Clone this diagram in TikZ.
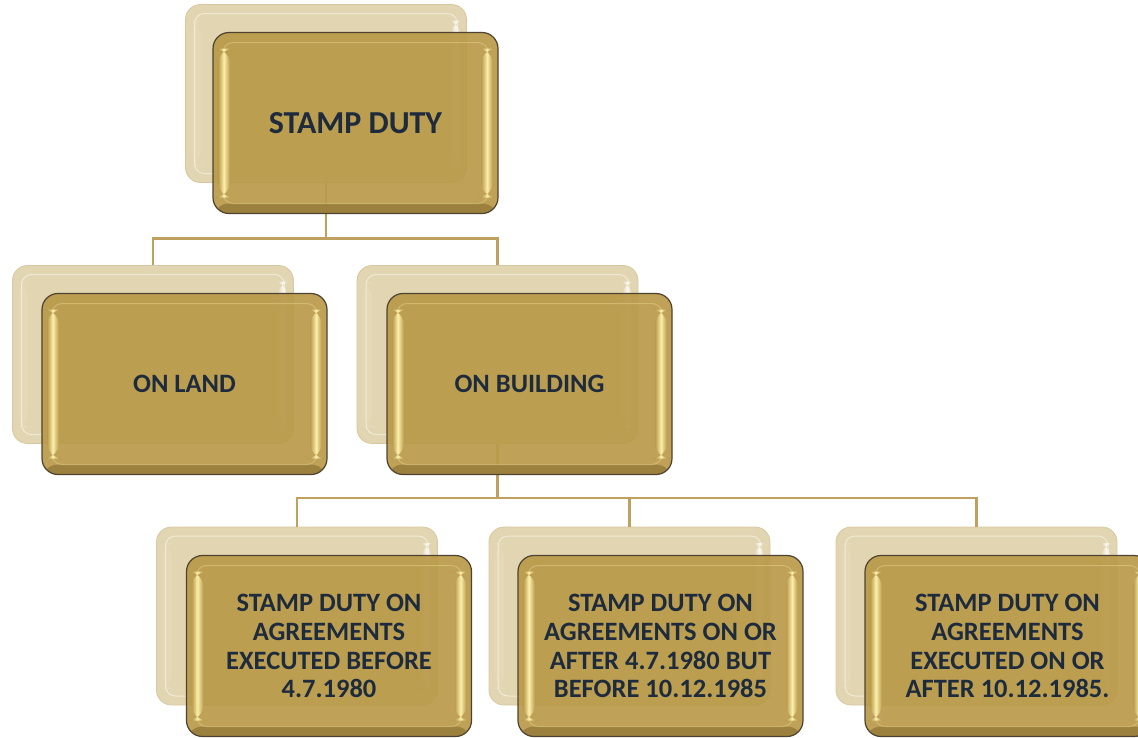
\documentclass[tikz,border=0pt]{standalone}
\usepackage{fontspec}
\setmainfont{Carlito}
\definecolor{gold}{HTML}{BA9A4A}
\definecolor{goldhl}{HTML}{FFF4B0}
\definecolor{golddark}{HTML}{4E4330}
\definecolor{beige}{HTML}{E2D5B1}
\definecolor{beigeedge}{HTML}{D6C8A0}
\definecolor{conncol}{HTML}{BFA05E}
\definecolor{navy}{HTML}{1E2B3C}
\begin{document}
\begin{tikzpicture}[x=1pt,y=-1pt,
  backbox/.style={rounded corners=15pt, minimum width=281pt, minimum height=178pt,
    fill=beige, draw=beigeedge, line width=0.8pt, inner sep=0pt,
    path picture={
      \shade[left color=beige,right color=beige,middle color=white]
        ([xshift=5pt,yshift=-16pt]path picture bounding box.north west) rectangle
        ([xshift=15pt,yshift=16pt]path picture bounding box.south west);
      \shade[left color=beige,right color=beige,middle color=white!80!beige]
        ([xshift=-16pt,yshift=-16pt]path picture bounding box.north east) rectangle
        ([xshift=-6pt,yshift=16pt]path picture bounding box.south east);
      \draw[white, opacity=0.5, line width=1pt, rounded corners=10pt]
        ([xshift=9pt,yshift=-9pt]path picture bounding box.north west) rectangle
        ([xshift=-9pt,yshift=9pt]path picture bounding box.south east);
    }},
  frontbox/.style={rounded corners=16pt, minimum width=285pt, minimum height=181pt,
    fill=gold, fill opacity=0.93, text opacity=1, draw=golddark, draw opacity=1,
    line width=1.2pt, inner sep=0pt, align=center, text=navy,
    path picture={
      \shade[top color=gold, bottom color=gold!82!black]
        ([yshift=10pt]path picture bounding box.south west) rectangle
        (path picture bounding box.south east);
      \shade[left color=gold,right color=gold,middle color=goldhl]
        ([xshift=5pt,yshift=-16pt]path picture bounding box.north west) rectangle
        ([xshift=17pt,yshift=16pt]path picture bounding box.south west);
      \shade[left color=gold,right color=gold,middle color=goldhl]
        ([xshift=-17pt,yshift=-16pt]path picture bounding box.north east) rectangle
        ([xshift=-5pt,yshift=16pt]path picture bounding box.south east);
      \draw[goldhl, opacity=0.3, line width=1pt, rounded corners=10pt]
        ([xshift=10pt,yshift=-10pt]path picture bounding box.north west) rectangle
        ([xshift=-10pt,yshift=10pt]path picture bounding box.south east);
    }},
  conn/.style={draw=conncol, line width=2.6pt},
  topfont/.style={font=\bfseries\fontsize{32}{38}\selectfont},
  midfont/.style={font=\bfseries\fontsize{26.5}{31}\selectfont},
  lowfont/.style={font=\bfseries\fontsize{26.5}{28.8}\selectfont}
]
\useasboundingbox (0,0) rectangle (1138,737);
\clip (0,0) rectangle (1138,737);

% back boxes
\node[backbox] (b0) at (326,93.5) {};
\node[backbox] (b1) at (153,354.5) {};
\node[backbox] (b2) at (497.5,354.5) {};
\node[backbox] (b3) at (297,616) {};
\node[backbox] (b4) at (629.5,616) {};
\node[backbox] (b5) at (976.5,616) {};

% connectors
\coordinate (j0) at (326,238.5);
\coordinate (j1) at (497.5,498);
\draw[conn] (b0.south) -- (j0);
\draw[conn] (j0) -| (b1.north);
\draw[conn] (j0) -| (b2.north);
\draw[conn] (b2.south) -- (j1);
\draw[conn] (j1) -| (b3.north);
\draw[conn] (j1) -| (b4.north);
\draw[conn] (j1) -| (b5.north);

% front boxes
\node[frontbox, topfont] (f0) at (355.5,123) {STAMP DUTY};
\node[frontbox, midfont] (f1) at (184.5,384) {ON LAND};
\node[frontbox, midfont] (f2) at (529.5,384) {ON BUILDING};
\node[frontbox, lowfont] (f3) at (329,646) {STAMP DUTY ON\\AGREEMENTS\\EXECUTED BEFORE\\4.7.1980};
\node[frontbox, lowfont] (f4) at (660.5,646) {STAMP DUTY ON\\AGREEMENTS ON OR\\AFTER 4.7.1980 BUT\\BEFORE 10.12.1985};
\node[frontbox, lowfont] (f5) at (1007.5,646) {STAMP DUTY ON\\AGREEMENTS\\EXECUTED ON OR\\AFTER 10.12.1985.};
\end{tikzpicture}
\end{document}
